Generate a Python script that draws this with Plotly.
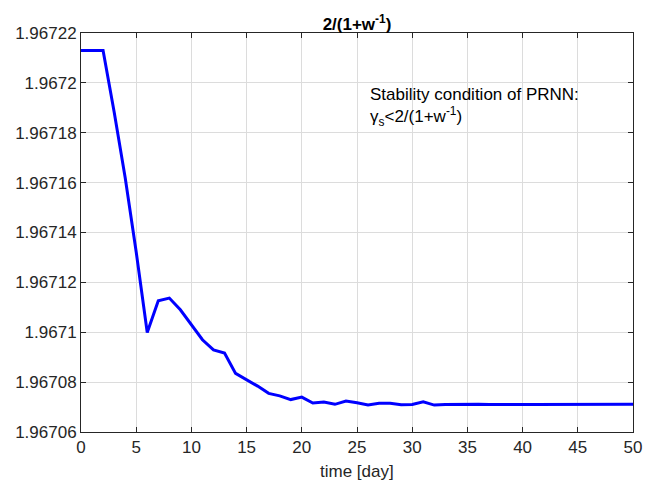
import plotly.graph_objects as go

days = list(range(0, 51))
values = [
    1.967213, 1.967213, 1.967213, 1.9671884, 1.9671621, 1.9671322, 1.9670999,
    1.9671126, 1.9671137, 1.967109, 1.967103, 1.967097, 1.9670929, 1.9670917,
    1.9670835, 1.967081, 1.9670784, 1.9670755, 1.9670745, 1.967073, 1.967074,
    1.9670716, 1.967072, 1.9670711, 1.9670724, 1.9670717, 1.9670708, 1.9670715,
    1.9670715, 1.9670709, 1.967071, 1.9670721, 1.9670708, 1.967071, 1.9670711,
    1.967071, 1.9670711, 1.967071, 1.9670711, 1.9670711, 1.967071, 1.967071,
    1.967071, 1.967071, 1.967071, 1.967071, 1.9670711, 1.9670711, 1.9670711,
    1.9670711, 1.9670711,
]

x_ticks = [0, 5, 10, 15, 20, 25, 30, 35, 40, 45, 50]
y_tickvals = [1.96706, 1.96708, 1.96710, 1.96712, 1.96714, 1.96716, 1.96718, 1.96720, 1.96722]
y_ticktext = ["1.96706", "1.96708", "1.9671", "1.96712", "1.96714", "1.96716", "1.96718", "1.9672", "1.96722"]

title_text = "<b>2/(1+w<sup>-1</sup>)</b>"
xlabel_text = "time [day]"
note_text = "Stability condition of PRNN:<br>γ<sub>s</sub>&lt;2/(1+w<sup>-1</sup>)"

font_family = "Liberation Sans, Arial, sans-serif"
FS = 17

fig = go.Figure()
fig.add_trace(go.Scatter(
    x=days, y=values, mode="lines",
    line=dict(color="#0000ff", width=3),
    showlegend=False, hoverinfo="skip",
))

axis_common = dict(
    showline=True, linecolor="#262626", linewidth=1, mirror="ticks",
    ticks="inside", ticklen=5, tickcolor="#262626", tickwidth=1,
    showgrid=True, gridcolor="#dcdcdc", gridwidth=1, zeroline=False,
    automargin=False,
    tickfont=dict(family=font_family, size=FS, color="#262626"),
)

fig.update_layout(
    width=655, height=481,
    margin=dict(l=81, r=22, t=33, b=49),
    paper_bgcolor="white", plot_bgcolor="white",
    font=dict(family=font_family, color="#000000"),
    title=dict(text=title_text, x=0.5, xanchor="center", xref="paper",
               y=1, yref="paper", yanchor="bottom", pad=dict(b=3),
               font=dict(family=font_family, size=FS, color="#000000")),
    xaxis=dict(range=[0, 50], tickvals=x_ticks, **axis_common),
    yaxis=dict(range=[1.96706, 1.96722], tickvals=y_tickvals, ticktext=y_ticktext,
               **axis_common),
    annotations=[
        dict(text=note_text, x=26.0, y=1.9672, xref="x", yref="y",
             xanchor="left", yanchor="top", showarrow=False, align="left",
             font=dict(family=font_family, size=FS, color="#000000")),
        dict(text=xlabel_text, x=0.5, y=0, xref="paper", yref="paper",
             xanchor="center", yanchor="middle", yshift=-39, showarrow=False,
             font=dict(family=font_family, size=FS, color="#262626")),
    ],
)

fig.write_html("out.html")
